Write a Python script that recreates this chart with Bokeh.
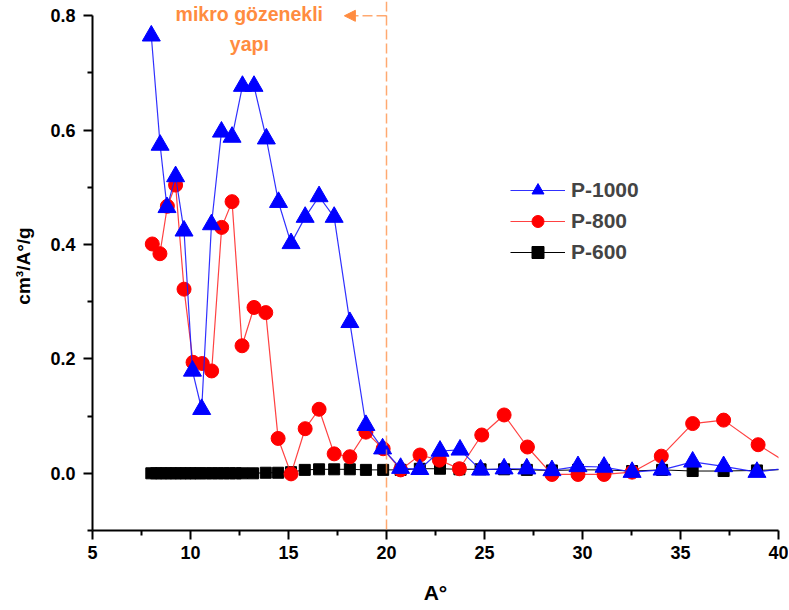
from bokeh.plotting import figure
from bokeh.models import (Legend, LegendItem, Span, Arrow, NormalHead, Label,
                          FixedTicker, Range1d, CustomJSTickFormatter)
from bokeh.embed import file_html
from bokeh.resources import INLINE

# ---------------- data ----------------
p1000_x = [8.0, 8.45, 8.8, 9.24, 9.67, 10.1, 10.57, 11.07, 11.58, 12.12, 12.65, 13.24,
           13.87, 14.49, 15.13, 15.85, 16.56, 17.33, 18.13, 18.95, 19.8, 20.72, 21.7,
           22.73, 23.75, 24.8, 26.0, 27.16, 28.44, 29.77, 31.1, 32.53, 34.06, 35.62,
           37.2, 38.9, 40.6]
p1000_y = [0.765, 0.574, 0.465, 0.519, 0.424, 0.179, 0.112, 0.435, 0.597, 0.588, 0.677,
           0.677, 0.585, 0.474, 0.402, 0.448, 0.484, 0.448, 0.264, 0.084, 0.043, 0.009,
           0.007, 0.039, 0.041, 0.006, 0.008, 0.008, 0.005, 0.012, 0.011, 0.002, 0.006,
           0.020, 0.012, 0.002, 0.010]

p800_x = [8.05, 8.44, 8.82, 9.24, 9.67, 10.13, 10.6, 11.08, 11.59, 12.12, 12.63, 13.24,
          13.84, 14.47, 15.13, 15.85, 16.56, 17.33, 18.13, 18.95, 19.83, 20.72, 21.71,
          22.7, 23.72, 24.86, 26.0, 27.19, 28.44, 29.77, 31.1, 32.53, 34.02, 35.62,
          37.2, 38.96, 40.6]
p800_y = [0.401, 0.384, 0.467, 0.504, 0.322, 0.194, 0.192, 0.179, 0.430, 0.475, 0.223,
          0.290, 0.281, 0.061, -0.001, 0.078, 0.112, 0.034, 0.029, 0.072, 0.043, 0.006,
          0.032, 0.023, 0.008, 0.067, 0.102, 0.046, -0.002, -0.002, -0.002, 0.002,
          0.030, 0.087, 0.093, 0.050, 0.015]

p600_x = [8.0, 8.25, 8.5, 8.75, 9.0, 9.25, 9.5, 9.75, 10.0, 10.25, 10.5, 10.8, 11.1,
          11.4, 11.7, 12.0, 12.3, 12.63, 13.19, 13.84, 14.47, 15.13, 15.83, 16.56,
          17.33, 18.13, 18.95, 19.83, 20.72, 21.7, 22.73, 23.72, 24.8, 26.0, 27.16,
          28.44, 29.77, 31.1, 32.53, 34.06, 35.62, 37.2, 38.9, 40.6]
p600_y = [0.0, 0.0, 0.0, 0.0, 0.0, 0.0, 0.0, 0.0, 0.0, 0.0, 0.0, 0.0, 0.0,
          0.0, 0.0, 0.0, 0.0, 0.0, 0.0, 0.001, 0.001, 0.002, 0.006, 0.007,
          0.007, 0.007, 0.006, 0.006, 0.006, 0.008, 0.008, 0.007, 0.007, 0.007, 0.006,
          0.005, 0.006, 0.006, 0.004, 0.006, 0.004, 0.004, 0.005, 0.007]

series_names = ["P-1000", "P-800", "P-600"]
x_ticks = [5, 10, 15, 20, 25, 30, 35, 40]
x_minor = [7.5, 12.5, 17.5, 22.5, 27.5, 32.5, 37.5]
y_ticks = [0.0, 0.2, 0.4, 0.6, 0.8]
y_minor = [-0.1, 0.1, 0.3, 0.5, 0.7]
boundary_x = 20
arrow_end_x = 17.85
note_lines = ["mikro gözenekli", "yapı"]

FONT = "Liberation Sans"
ORANGE = "#FF8C40"

p = figure(frame_width=686, frame_height=529, output_backend="svg", toolbar_location=None,
           x_range=Range1d(5, 40), y_range=Range1d(-0.1, 0.825),
           min_border_left=92, min_border_right=10, min_border_top=1,
           min_border_bottom=8)
p.grid.visible = False
p.outline_line_color = None
p.background_fill_color = "white"
p.border_fill_color = "white"

# axes
p.xaxis.ticker = FixedTicker(ticks=x_ticks, minor_ticks=x_minor)
p.yaxis.ticker = FixedTicker(ticks=y_ticks, minor_ticks=y_minor)
p.yaxis.formatter = CustomJSTickFormatter(code="return tick.toFixed(1);")
p.yaxis.bounds = (-0.1, 0.8)
for ax in (p.xaxis, p.yaxis):
    ax.axis_line_width = 2
    ax.axis_line_color = "black"
    ax.major_tick_line_width = 2
    ax.minor_tick_line_width = 2
    ax.major_tick_in = 0
    ax.major_tick_out = 9
    ax.minor_tick_in = 0
    ax.minor_tick_out = 5
    ax.major_label_text_font = FONT
    ax.major_label_text_font_style = "bold"
    ax.major_label_text_font_size = "18px"
    ax.major_label_text_color = "black"
    ax.axis_label_text_font = FONT
    ax.axis_label_text_font_style = "bold"
    ax.axis_label_text_color = "black"
p.xaxis.axis_label = "A°"
p.xaxis.axis_label_text_font_size = "21px"
p.xaxis.axis_label_standoff = 19
p.xaxis.major_label_standoff = 6
p.yaxis.axis_label = "cm³/A°/g"
p.yaxis.axis_label_text_font_size = "19px"
p.yaxis.axis_label_standoff = 13
p.yaxis.major_label_standoff = 8

# boundary line and note
p.add_layout(Span(location=boundary_x, dimension="height", line_color=ORANGE,
                  line_dash="10 4", line_width=1.5, line_alpha=0.75))
p.add_layout(Arrow(x_start=boundary_x, y_start=0.8, x_end=arrow_end_x, y_end=0.8,
                   line_color=ORANGE, line_dash="10 4", line_width=1.5, line_alpha=0.75,
                   end=NormalHead(size=11, fill_color=ORANGE, line_color=ORANGE)))
p.add_layout(Label(x=13.0, y=0.803, text=note_lines[0], text_align="center",
                   text_baseline="middle", text_font=FONT, text_font_style="bold",
                   text_font_size="19.5px", text_color=ORANGE))
p.add_layout(Label(x=13.0, y=0.751, text=note_lines[1], text_align="center",
                   text_baseline="middle", text_font=FONT, text_font_style="bold",
                   text_font_size="19.5px", text_color=ORANGE))

# series (black first, blue on top)
l600 = p.line(p600_x, p600_y, line_color="black", line_width=1)
s600 = p.scatter(p600_x, p600_y, marker="square", size=11, fill_color="black", line_color="black")
l800 = p.line(p800_x, p800_y, line_color="#FF2020", line_width=1.2, line_alpha=0.85)
s800 = p.scatter(p800_x, p800_y, marker="circle", size=14, fill_color="#FF0000", line_color="#FF0000")
l1000 = p.line(p1000_x, p1000_y, line_color="#1A1AFF", line_width=1.2, line_alpha=0.9)
s1000 = p.scatter(p1000_x, p1000_y, marker="triangle", size=18, fill_color="#0000FF", line_color="#0000FF")

legend = Legend(items=[LegendItem(label=series_names[0], renderers=[l1000, s1000]),
                       LegendItem(label=series_names[1], renderers=[l800, s800]),
                       LegendItem(label=series_names[2], renderers=[l600, s600])],
                location=(418, 263), glyph_width=55, glyph_height=30, spacing=1,
                label_standoff=6, padding=0, margin=0, border_line_alpha=0,
                background_fill_alpha=0, label_text_font=FONT,
                label_text_font_style="bold", label_text_font_size="21px",
                label_height=30)
p.add_layout(legend, "center")

open("out.html", "w").write(file_html(p, INLINE))
